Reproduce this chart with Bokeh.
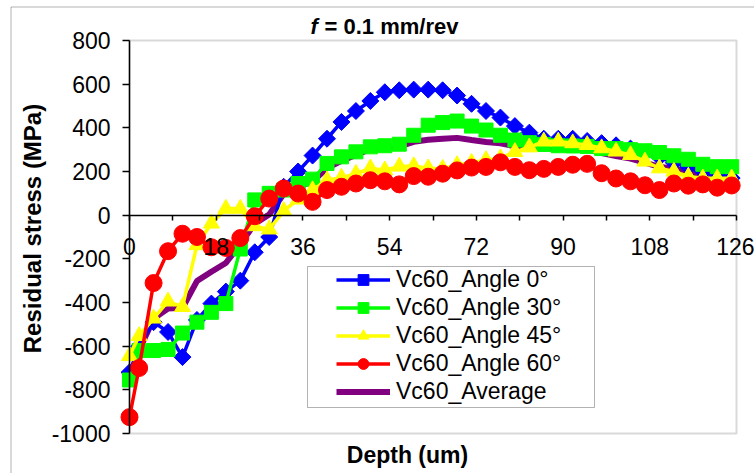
import numpy as np
from bokeh.plotting import figure
from bokeh.models import Range1d, FixedTicker, Label, Legend, LegendItem, BoxAnnotation
from bokeh.embed import file_html
from bokeh.resources import INLINE

# ---------------- data ----------------
depth = [0, 2, 5, 8, 11, 14, 17, 20, 23, 26, 29, 32, 35, 38, 41, 44, 47, 50, 53, 56,
         59, 62, 65, 68, 71, 74, 77, 80, 83, 86, 89, 92, 95, 98, 101, 104, 107, 110,
         113, 116, 119, 122, 125]

angle0 = [-720, -600, -490, -535, -650, -480, -405, -350, -300, -170, -100, 130, 200,
          273, 350, 427, 477, 523, 563, 572, 575, 575, 572, 548, 510, 477, 447, 408,
          378, 350, 350, 350, 340, 330, 320, 305, 285, 265, 240, 220, 200, 185, 170]

angle30 = [-755, -620, -620, -615, -540, -490, -445, -405, -155, 70, 100, 115, 145,
           165, 237, 267, 290, 313, 318, 325, 366, 412, 424, 431, 408, 390, 366, 344,
           332, 324, 318, 317, 315, 305, 305, 300, 295, 287, 272, 256, 233, 222, 222]

angle45 = [-645, -553, -473, -395, -420, -137, -38, 30, 30, -50, -65, 20, 72, 115,
           160, 172, 190, 215, 206, 223, 225, 215, 213, 230, 240, 253, 261, 290, 311,
           338, 338, 330, 322, 307, 292, 276, 246, 215, 200, 177, 169, 169, 169]

angle60 = [-925, -700, -311, -165, -85, -100, -147, -150, -105, -5, 76, 122, 99, 61,
           115, 130, 145, 160, 155, 141, 179, 176, 190, 205, 218, 221, 242, 221, 206,
           212, 221, 231, 235, 192, 168, 155, 137, 115, 145, 135, 141, 126, 136]

average = [-761, -618, -474, -428, -424, -302, -259, -219, -133, -39, 3, 97, 129, 154,
           216, 249, 276, 303, 311, 315, 336, 345, 350, 354, 344, 335, 329, 316, 307,
           306, 307, 307, 303, 284, 271, 259, 241, 221, 214, 197, 186, 176, 174]

series_names = ["Vc60_Angle 0°", "Vc60_Angle 30°", "Vc60_Angle 45°", "Vc60_Angle 60°", "Vc60_Average"]

x_min, x_max = 0, 126
y_min, y_max = -1000, 800
x_ticks = [0, 18, 36, 54, 72, 90, 108, 126]
x_minor_ticks = [9, 27, 45, 63, 81, 99, 117]
y_ticks = [-1000, -800, -600, -400, -200, 0, 200, 400, 600, 800]

title_italic = "f"
title_rest = "= 0.1 mm/rev"
x_title = "Depth (um)"
y_title = "Residual stress (MPa)"

# ---------------- layout (pixels on the canvas) ----------------
W, H = 754, 473
PX0, PX1 = 129, 736      # pixel of x_min, x_max
PY_TOP, PY_BOT = 40, 433  # pixel of y_max, y_min
SX = (PX1 - PX0) / (x_max - x_min)
SY = (PY_BOT - PY_TOP) / (y_max - y_min)


def dx(px):
    return x_min + (px - PX0) / SX


def dy(py):
    return y_max - (py - PY_TOP) / SY


FONT = "Liberation Sans"

p = figure(width=W, height=H, output_backend="svg", toolbar_location=None,
           title=None,
           x_range=Range1d(dx(0), dx(W)), y_range=Range1d(dy(H), dy(0)),
           min_border=0, min_border_left=0, min_border_right=0,
           min_border_top=0, min_border_bottom=0)

p.background_fill_color = "white"
p.border_fill_color = "white"
p.outline_line_color = None
p.xgrid.visible = False
p.ygrid.visible = False

# outer chart border (only its top and left edges lie inside the picture)
p.add_layout(BoxAnnotation(left=dx(10.5), top=dy(6.5), right=dx(W + 50), bottom=dy(H + 50),
                           fill_alpha=0, line_color="black", line_width=1,
                           level="underlay"))
# plot-area border
p.add_layout(BoxAnnotation(left=x_min, right=x_max, top=y_max, bottom=y_min,
                           fill_alpha=0, line_color="#808080", line_width=2,
                           level="underlay"))

# x axis crossing at y = 0
xa = p.xaxis[0]
xa.fixed_location = 0
xa.bounds = (x_min, x_max)
xa.ticker = FixedTicker(ticks=x_ticks, minor_ticks=x_minor_ticks)
xa.major_label_overrides = {t: str(t) for t in x_ticks}
xa.axis_line_color = "black"
xa.axis_line_width = 1.5
xa.major_tick_in = 0
xa.major_tick_out = 5
xa.minor_tick_in = 0
xa.minor_tick_out = 5
xa.major_tick_line_color = "black"
xa.minor_tick_line_color = "black"
xa.major_tick_line_width = 1.5
xa.minor_tick_line_width = 1.5
xa.major_label_text_font = FONT
xa.major_label_text_font_size = "23px"
xa.major_label_text_color = "black"
xa.major_label_standoff = 18

ya = p.yaxis[0]
ya.fixed_location = x_min
ya.bounds = (y_min, y_max)
ya.ticker = FixedTicker(ticks=y_ticks)
ya.major_label_overrides = {t: str(t) for t in y_ticks}
ya.axis_line_color = "black"
ya.axis_line_width = 1.5
ya.major_tick_in = 0
ya.major_tick_out = 7
ya.major_tick_line_color = "black"
ya.major_tick_line_width = 1.5
ya.minor_tick_line_color = None
ya.major_label_text_font = FONT
ya.major_label_text_font_size = "23px"
ya.major_label_text_color = "black"
ya.major_label_standoff = 12

# ---------------- series ----------------
lw = 3.5
r_avg = p.line(depth, average, line_color="#800080", line_width=6)

l0 = p.line(depth, angle0, line_color="#0000FF", line_width=lw)
s0 = p.scatter(depth, angle0, marker="square", angle=np.pi / 4, size=12,
               fill_color="#0000FF", line_color="#0000FF")

l30 = p.line(depth, angle30, line_color="#00FF00", line_width=lw)
s30 = p.scatter(depth, angle30, marker="square", size=14,
                fill_color="#00FF00", line_color="#00FF00")

l45 = p.line(depth, angle45, line_color="#FFFF00", line_width=lw)
s45 = p.scatter(depth, angle45, marker="triangle", size=16,
                fill_color="#FFFF00", line_color="#FFFF00")

l60 = p.line(depth, angle60, line_color="#FF0000", line_width=lw)
s60 = p.scatter(depth, angle60, marker="circle", size=17,
                fill_color="#FF0000", line_color="#FF0000")

# ---------------- legend ----------------
p.add_layout(BoxAnnotation(left=dx(307), right=dx(594), top=dy(266), bottom=dy(407),
                           fill_alpha=0, line_color="black", line_width=1))

LEG_LEFT, LEG_BOTTOM = 332, 408.5
legend = Legend(items=[
    LegendItem(label=series_names[0], renderers=[l0, s0]),
    LegendItem(label=series_names[1], renderers=[l30, s30]),
    LegendItem(label=series_names[2], renderers=[l45, s45]),
    LegendItem(label=series_names[3], renderers=[l60, s60]),
    LegendItem(label=series_names[4], renderers=[r_avg]),
], location=(LEG_LEFT, H - LEG_BOTTOM))
legend.glyph_width = 54
legend.glyph_height = 27
legend.label_height = 27
legend.label_standoff = 6
legend.spacing = 1
legend.padding = 4
legend.margin = 0
legend.border_line_alpha = 0
legend.background_fill_alpha = 0
legend.label_text_font = FONT
legend.label_text_font_size = "23px"
legend.label_text_color = "black"
p.add_layout(legend, "center")

# ---------------- titles ----------------
p.add_layout(Label(x=dx(310), y=dy(25.5), text=title_italic,
                   text_font=FONT, text_font_size="22px", text_font_style="bold italic",
                   text_color="black", text_align="left", text_baseline="alphabetic"))
p.add_layout(Label(x=dx(324), y=dy(25.5), text=title_rest,
                   text_font=FONT, text_font_size="22px", text_font_style="bold",
                   text_color="black", text_align="left", text_baseline="alphabetic"))
p.add_layout(Label(x=dx(407), y=dy(454), text=x_title,
                   text_font=FONT, text_font_size="23px", text_font_style="bold",
                   text_color="black", text_align="center", text_baseline="alphabetic"))
p.add_layout(Label(x=dx(32), y=dy(228), text=y_title, angle=np.pi / 2,
                   text_font=FONT, text_font_size="24px", text_font_style="bold",
                   text_color="black", text_align="center", text_baseline="middle"))

open("out.html", "w").write(file_html(p, INLINE))
